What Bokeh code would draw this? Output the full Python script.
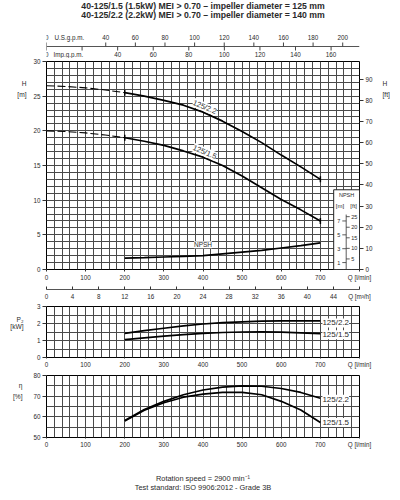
import numpy as np
from bokeh.plotting import figure
from bokeh.models import Range1d, LinearAxis, FixedTicker, Label
from bokeh.layouts import column
from bokeh.embed import file_html
from bokeh.resources import INLINE
from bokeh.core.properties import value

# ---------------- data ----------------
q_dash = [0, 50, 100, 150, 200]
h22_dash = [26.5, 26.4, 26.2, 25.9, 25.5]
h15_dash = [20.0, 19.9, 19.7, 19.4, 19.0]

q = [200, 250, 300, 350, 400, 450, 500, 550, 600, 650, 700]
h22 = [25.5, 25.0, 24.4, 23.7, 22.7, 21.4, 19.9, 18.3, 16.5, 14.8, 13.0]
h15 = [19.0, 18.5, 17.9, 17.1, 16.2, 15.0, 13.5, 11.8, 10.1, 8.6, 7.0]
npsh = [1.65, 1.7, 1.8, 1.9, 2.0, 2.25, 2.5, 2.75, 3.1, 3.45, 3.85]
p22 = [1.42, 1.58, 1.72, 1.86, 1.97, 2.05, 2.10, 2.14, 2.16, 2.16, 2.15]
p15 = [1.05, 1.16, 1.26, 1.35, 1.42, 1.47, 1.50, 1.51, 1.49, 1.45, 1.40]
eta22 = [58.2, 63.5, 67.5, 70.7, 73.0, 74.4, 75.0, 74.8, 73.7, 71.8, 69.0]
eta15 = [58.0, 63.2, 66.8, 69.5, 71.0, 71.8, 71.8, 70.7, 67.5, 63.3, 57.3]

q_ticks = [0, 100, 200, 300, 400, 500, 600, 700]
h_ticks = [0, 5, 10, 15, 20, 25, 30]
ft_ticks = [0, 10, 20, 30, 40, 50, 60, 70, 80, 90]
us_ticks = [0, 40, 60, 80, 100, 120, 140, 160, 180, 200]
imp_ticks = [0, 20, 40, 60, 80, 100, 120, 140, 160]
imp_labels = ["0", "", "40", "60", "80", "100", "120", "140", "160"]
m3h_ticks = [0, 4, 8, 12, 16, 20, 24, 28, 32, 36, 40, 44]
p_ticks = [0, 1, 2, 3]
eta_ticks = [50, 60, 70, 80]
npsh_m_ticks = [1, 3, 5, 7]
npsh_ft_ticks = [5, 10, 15, 20, 25]

title1 = "40-125/1.5 (1.5kW) MEI > 0.70 \u2013 impeller diameter = 125 mm"
title2 = "40-125/2.2 (2.2kW) MEI > 0.70 \u2013 impeller diameter = 140 mm"
footer1 = "Rotation speed = 2900 min\u207b\u00b9"
footer2 = "Test standard: ISO 9906:2012 - Grade 3B"
lab22 = "125/2.2"
lab15 = "125/1.5"

# unit conversions
L_PER_USGAL = 3.78541
L_PER_IMPGAL = 4.54609
M_TO_FT = 3.28084
LMIN_PER_M3H = 1000.0 / 60.0

# layout constants
W = 400
FL, FR = 46, 41               # side borders of the plot frames
QMAX = 800
FONT = "Liberation Sans"
TXT = "#2a2a2a"
GRID = "#4a4a4a"
TICK_FS = "6.3px"


def base_fig(h, top, bottom, y0, y1, axes=True):
    p = figure(width=W, height=h,
               min_border_left=FL, min_border_right=FR,
               min_border_top=top, min_border_bottom=bottom,
               x_range=Range1d(0, QMAX), y_range=Range1d(y0, y1),
               toolbar_location=None, output_backend="svg",
               x_axis_location="below" if axes else None,
               y_axis_location="left" if axes else None)
    p.background_fill_color = "white"
    p.border_fill_color = "white"
    p.title.visible = False
    if not axes:
        p.outline_line_color = None
        p.xgrid.visible = False
        p.ygrid.visible = False
    return p


def style_axis(ax, tick_out=3, tick_in=0, standoff=2, line=None, size=TICK_FS):
    ax.major_label_text_font = FONT
    ax.major_label_text_font_size = size
    ax.major_label_text_color = TXT
    ax.minor_tick_line_color = None
    ax.major_tick_line_color = "#333333"
    ax.major_tick_out = tick_out
    ax.major_tick_in = tick_in
    ax.major_label_standoff = standoff
    ax.axis_line_color = line


def name_axis(p, side, ticks, texts, standoff, size="6.6px"):
    ax = LinearAxis(ticker=FixedTicker(ticks=ticks),
                    major_label_overrides=dict(zip(ticks, texts)))
    style_axis(ax, tick_out=0, standoff=standoff, size=size)
    ax.major_tick_line_color = None
    p.add_layout(ax, side)


def in_label(p, x, y, text, xo=0, yo=0, align="left", size="8px", angle=0.0,
             baseline="middle"):
    lb = Label(x=x, y=y, text=text, x_offset=xo, y_offset=yo,
               text_align=align, text_baseline=baseline,
               text_font=FONT, text_font_size=size, text_color=TXT,
               angle=angle, angle_units="deg", background_fill_color="white")
    p.add_layout(lb)


def panel_grid(p, yticks):
    p.outline_line_color = "black"
    p.xgrid.ticker = FixedTicker(ticks=list(range(0, QMAX + 1, 20)))
    p.ygrid.ticker = FixedTicker(ticks=yticks)
    for g in (p.xgrid[0], p.ygrid[0]):
        g.grid_line_color = GRID
        g.grid_line_width = 1


def txt(p, xs, ys, texts, align="center", size=TICK_FS, bold=False, xo=0, **kw):
    p.text(x=xs, y=ys, text=texts, text_align=align, text_baseline="middle",
           text_font=value(FONT), text_font_size=size, text_color=TXT,
           text_font_style="bold" if bold else "normal", x_offset=xo, **kw)


# ---------------- header: titles + gpm scales (y = page pixels) ----------------
f0 = base_fig(58, 0, 0, 58, 0, axes=False)
f0.extra_x_ranges = {"us": Range1d(0, QMAX / L_PER_USGAL),
                     "imp": Range1d(0, QMAX / L_PER_IMPGAL)}
txt(f0, [400], [5.5], [title1], size="8.7px", bold=True)
txt(f0, [400], [14.5], [title2], size="8.7px", bold=True)
f0.segment(x0=[0], y0=[46], x1=[QMAX], y1=[46], line_color="#555555", line_width=1)
f0.segment(x0=us_ticks, y0=[46] * len(us_ticks), x1=us_ticks, y1=[42] * len(us_ticks),
           x_range_name="us", line_color="#444444", line_width=1)
txt(f0, us_ticks[1:], [36.5] * (len(us_ticks) - 1), [str(v) for v in us_ticks[1:]],
    x_range_name="us")
txt(f0, us_ticks[:1], [36.5], [str(us_ticks[0])], align="left", xo=-1.5, x_range_name="us")
f0.segment(x0=imp_ticks, y0=[46] * len(imp_ticks), x1=imp_ticks, y1=[50] * len(imp_ticks),
           x_range_name="imp", line_color="#444444", line_width=1)
txt(f0, imp_ticks[1:], [54.3] * (len(imp_ticks) - 1), imp_labels[1:], x_range_name="imp")
txt(f0, imp_ticks[:1], [54.3], imp_labels[:1], align="left", xo=-1.5, x_range_name="imp")
txt(f0, [0], [36.5], ["U.S.g.p.m."], align="left", xo=8)
txt(f0, [0], [54.3], ["Imp.g.p.m."], align="left", xo=7)

# ---------------- H / NPSH panel ----------------
f1 = base_fig(227, 3, 16, 0, 30)
panel_grid(f1, list(range(0, 31)))
f1.xaxis.ticker = FixedTicker(ticks=q_ticks + [QMAX])
f1.xaxis.major_label_overrides = {QMAX: "Q [l/min]"}
style_axis(f1.xaxis[0], tick_out=2, standoff=2)
f1.yaxis.ticker = FixedTicker(ticks=h_ticks)
style_axis(f1.yaxis[0], tick_out=4, standoff=2)
f1.extra_y_ranges = {"ft": Range1d(0, 30 * M_TO_FT)}
ax_ft = LinearAxis(y_range_name="ft", ticker=FixedTicker(ticks=ft_ticks))
style_axis(ax_ft, tick_out=4, standoff=2)
f1.add_layout(ax_ft, "right")
name_axis(f1, "left", [26.8, 25.25], ["H", "[m]"], 4)
name_axis(f1, "right", [26.8, 25.25], ["H", "[ft]"], 7)

# NPSH inset box with its own scale
f1.quad(left=734, right=QMAX, bottom=0, top=11.5, fill_color="white",
        line_color="#222222", line_width=1)
f1.segment(x0=[766], y0=[0], x1=[766], y1=[26], y_range_name="ft",
           line_color="#333333", line_width=0.8)
f1.segment(x0=[756] * len(npsh_m_ticks), y0=npsh_m_ticks,
           x1=[766] * len(npsh_m_ticks), y1=npsh_m_ticks,
           line_color="#333333", line_width=0.8)
f1.segment(x0=[766] * len(npsh_ft_ticks), y0=npsh_ft_ticks,
           x1=[775] * len(npsh_ft_ticks), y1=npsh_ft_ticks, y_range_name="ft",
           line_color="#333333", line_width=0.8)
txt(f1, [751] * len(npsh_m_ticks), npsh_m_ticks, [str(v) for v in npsh_m_ticks],
    align="right", size="5.5px")
txt(f1, [779] * len(npsh_ft_ticks), npsh_ft_ticks, [str(v) for v in npsh_ft_ticks],
    align="left", size="5.5px", y_range_name="ft")
txt(f1, [767], [10.7], ["NPSH"], size="5.5px")
txt(f1, [750, 785], [9.2, 9.2], ["[m]", "[ft]"], size="6px")

# curves
for hd, hs in ((h22_dash, h22), (h15_dash, h15)):
    f1.line(q_dash, hd, line_color="black", line_width=1.1, line_dash="8 3")
    f1.line(q, hs, line_color="black", line_width=1.7)
    f1.scatter([q[0], q[-1]], [hs[0], hs[-1]], marker="dash", angle=np.pi / 2,
               size=6, line_color="black", line_width=1.5)
f1.line(q, npsh, line_color="black", line_width=1.7)

in_label(f1, q[4], h22[4], lab22, yo=1, align="center", angle=-23, baseline="bottom", size="7.5px")
in_label(f1, q[4], h15[4], lab15, yo=1, align="center", angle=-23, baseline="bottom", size="7.5px")
in_label(f1, q[4], npsh[4], "NPSH", yo=11, align="center", size="6.5px")

# ---------------- m3/h scale strip ----------------
fs = base_fig(17, 0, 12, 0, 1, axes=False)
M3H_MAX = QMAX / LMIN_PER_M3H
fs.extra_x_ranges = {"m3h": Range1d(0, M3H_MAX)}
ax_m3 = LinearAxis(x_range_name="m3h", ticker=FixedTicker(ticks=m3h_ticks + [48]),
                   major_label_overrides={48: "Q [m\u00b3/h]"})
style_axis(ax_m3, tick_out=0, tick_in=3, standoff=3, line="#555555")
fs.add_layout(ax_m3, "below")

# ---------------- P2 panel ----------------
f2 = base_fig(68, 4, 11, 0, 3)
panel_grid(f2, [0, 0.5, 1, 1.5, 2, 2.5, 3])
f2.xaxis.ticker = FixedTicker(ticks=q_ticks + [QMAX])
f2.xaxis.major_label_overrides = {QMAX: "Q [l/min]"}
style_axis(f2.xaxis[0], tick_out=1, standoff=2)
f2.yaxis.ticker = FixedTicker(ticks=p_ticks)
style_axis(f2.yaxis[0], tick_out=4, standoff=2)
name_axis(f2, "left", [2.26, 1.82], ["P\u2082", "[kW]"], 10)
f2.line(q, p22, line_color="black", line_width=1.7)
f2.line(q, p15, line_color="black", line_width=1.7)
in_label(f2, q[-1], p22[-1], lab22, xo=2, yo=-2)
in_label(f2, q[-1], p15[-1], lab15, xo=2, yo=-1)

# ---------------- efficiency panel ----------------
f3 = base_fig(80, 5, 12, 50, 80)
panel_grid(f3, [50, 55, 60, 65, 70, 75, 80])
f3.xaxis.ticker = FixedTicker(ticks=q_ticks + [QMAX])
f3.xaxis.major_label_overrides = {QMAX: "Q [l/min]"}
style_axis(f3.xaxis[0], tick_out=1, standoff=2)
f3.yaxis.ticker = FixedTicker(ticks=eta_ticks)
style_axis(f3.yaxis[0], tick_out=4, standoff=2)
name_axis(f3, "left", [75.2, 70.0], ["\u03b7", "[%]"], 8)
f3.line(q, eta22, line_color="black", line_width=1.7)
f3.line(q, eta15, line_color="black", line_width=1.7)
in_label(f3, q[-1], eta22[-1], lab22, xo=2, yo=-1)
in_label(f3, q[-1], eta15[-1], lab15, xo=2, yo=0)

# ---------------- footer (y = page pixels) ----------------
f4 = base_fig(50, 0, 0, 500, 450, axes=False)
txt(f4, [400], [478.3], [footer1], size="7.4px")
txt(f4, [400], [487.3], [footer2], size="7.4px")

layout = column(f0, f1, fs, f2, f3, f4, spacing=0)
open("out.html", "w").write(file_html(layout, INLINE))
